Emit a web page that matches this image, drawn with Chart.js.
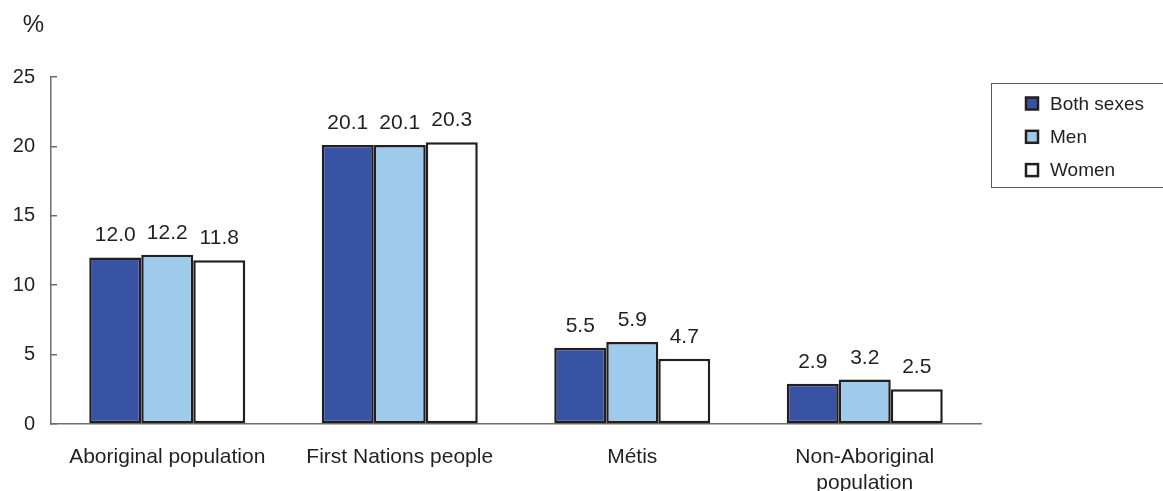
<!DOCTYPE html>
<html>
<head>
<meta charset="utf-8">
<script src="https://cdn.jsdelivr.net/npm/chart.js@4"></script>
<style>
  html, body { margin: 0; padding: 0; background: #ffffff; }
  #wrap { width: 1163px; height: 491px; }
</style>
</head>
<body>
<div id="wrap"><canvas id="chart" width="1163" height="491"></canvas></div>
<script>
// Categories along the x axis (multi-line where the label wraps)
const categories = [
  'Aboriginal population',
  'First Nations people',
  'Métis',
  ['Non-Aboriginal', 'population'],
];
// Percent values per group
const bothSexes = [12.0, 20.1, 5.5, 2.9];
const men = [12.2, 20.1, 5.9, 3.2];
const women = [11.8, 20.3, 4.7, 2.5];
// Series names and fills
const seriesNames = ['Both sexes', 'Men', 'Women'];
const seriesColors = ['#3953a4', '#9ecbeb', '#ffffff'];
// y axis ticks
const yTicks = [0, 5, 10, 15, 20, 25];

const ink = '#231f20';
const axisGrey = '#6d6e71';
const font = '"Liberation Sans", Arial, sans-serif';

// Value labels above bars, the % unit, and the boxed legend
const extras = {
  id: 'extras',
  afterDatasetsDraw(chart) {
    const ctx = chart.ctx;
    ctx.save();
    ctx.fillStyle = ink;
    ctx.font = '21px ' + font;
    ctx.textAlign = 'center';
    ctx.textBaseline = 'alphabetic';
    chart.data.datasets.forEach((ds, i) => {
      chart.getDatasetMeta(i).data.forEach((bar, j) => {
        ctx.fillText(ds.data[j].toFixed(1), bar.x, bar.y - 16);
      });
    });

    // unit label
    ctx.font = '24px ' + font;
    ctx.textAlign = 'center';
    ctx.textBaseline = 'middle';
    ctx.fillText('%', 33.5, 25);

    // legend box
    ctx.strokeStyle = '#5a5a5a';
    ctx.lineWidth = 1;
    ctx.strokeRect(991.5, 83.5, 200, 104);
    ctx.textAlign = 'left';
    ctx.font = '19px ' + font;
    chart.data.datasets.forEach((ds, i) => {
      const cy = 103.5 + i * 33.3;
      ctx.fillStyle = ds.backgroundColor;
      ctx.fillRect(1026, cy - 6, 12, 12);
      ctx.strokeStyle = ink;
      ctx.lineWidth = 2.5;
      ctx.strokeRect(1026, cy - 6, 12, 12);
      ctx.fillStyle = ink;
      ctx.fillText(ds.label, 1050, cy + 1);
    });
    ctx.restore();
  },
};

const datasets = [bothSexes, men, women].map((vals, i) => ({
  label: seriesNames[i],
  data: vals,
  backgroundColor: seriesColors[i],
  borderColor: ink,
  borderWidth: 2.5,
  borderSkipped: false,
  categoryPercentage: 0.671,
  barPercentage: 1.0,
}));

new Chart(document.getElementById('chart'), {
  type: 'bar',
  data: { labels: categories, datasets: datasets },
  plugins: [extras],
  options: {
    responsive: false,
    devicePixelRatio: 1,
    animation: false,
    layout: { padding: { top: 77, right: 182, bottom: 0, left: 0 } },
    plugins: {
      legend: { display: false },
      tooltip: { enabled: false },
    },
    scales: {
      x: {
        grid: { display: false },
        border: { color: axisGrey, width: 1.5 },
        ticks: {
          color: ink,
          font: { family: font, size: 21, lineHeight: 1.25 },
          padding: 12,
          maxRotation: 0,
        },
        afterFit(scale) { scale.height = 67; },
      },
      y: {
        min: 0,
        max: 25,
        afterBuildTicks(scale) { scale.ticks = yTicks.map(v => ({ value: v })); },
        grid: { drawOnChartArea: false, tickLength: -6, color: axisGrey, lineWidth: 1.5 },
        border: { color: axisGrey, width: 1.5 },
        ticks: {
          color: ink,
          font: { family: font, size: 20 },
          padding: 22,
        },
        afterFit(scale) { scale.width = 51; },
      },
    },
  },
});
</script>
</body>
</html>
